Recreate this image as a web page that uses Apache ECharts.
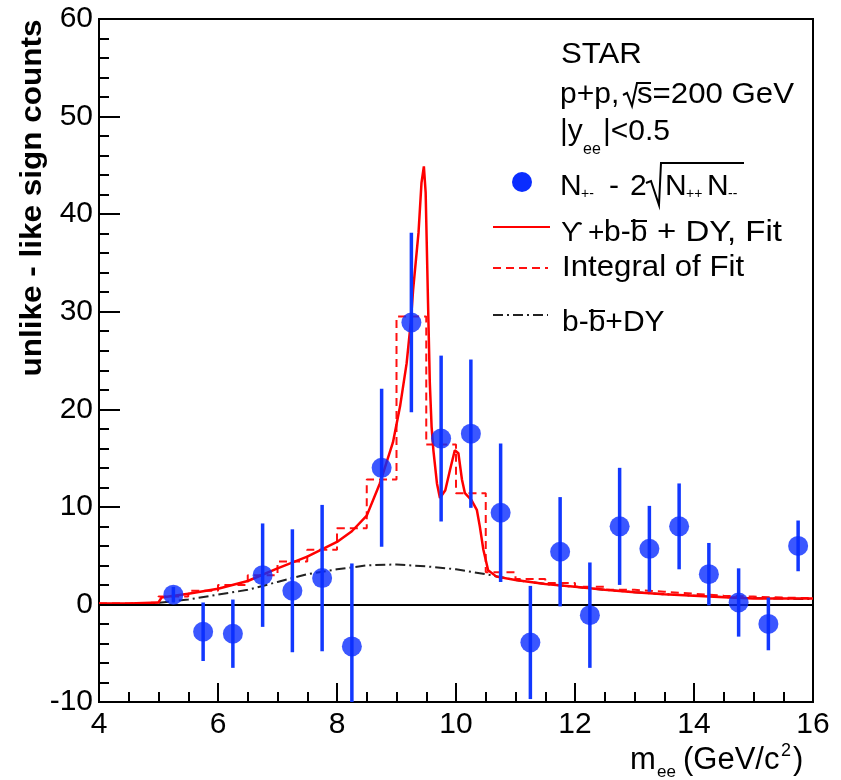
<!DOCTYPE html>
<html>
<head>
<meta charset="utf-8">
<script src="https://cdn.jsdelivr.net/npm/echarts@6/dist/echarts.min.js"></script>
<style>
  html, body { margin: 0; padding: 0; background: #fff; }
  #chart { width: 841px; height: 780px; }
</style>
</head>
<body>
<div id="chart"></div>
<script>
// data points: N+- - 2 sqrt(N++ N--), 0.5 GeV bins
const ptX = [5.25, 5.75, 6.25, 6.75, 7.25, 7.75, 8.25, 8.75, 9.25, 9.75, 10.25,
  10.75, 11.25, 11.75, 12.25, 12.75, 13.25, 13.75, 14.25, 14.75, 15.25, 15.75]
const ptY = [1.0, -2.8, -3.0, 3.0, 1.4, 2.7, -4.3, 14.0, 28.9, 17.0, 17.5,
  9.4, -3.9, 5.4, -1.1, 8.0, 5.7, 8.0, 3.1, 0.2, -2.0, 6.0]
const ptErr = [0.8, 3.0, 3.5, 5.3, 6.3, 7.5, 8.5, 8.1, 9.2, 8.5, 7.6,
  7.1, 5.8, 5.6, 5.4, 6.0, 4.4, 4.4, 3.2, 3.5, 2.7, 2.6]

// Upsilon + b-bbar + DY fit
const fitX = [4.0, 4.5, 5.0, 5.05, 5.5, 6.0, 6.5, 7.0, 7.5, 8.0, 8.25, 8.5, 8.72, 8.94,
  9.06, 9.17, 9.24, 9.28, 9.37, 9.42, 9.46, 9.49, 9.53, 9.56, 9.59, 9.62, 9.68, 9.73,
  9.82, 9.90, 9.98, 10.04, 10.10, 10.15, 10.26, 10.35, 10.40, 10.46, 10.54, 10.68,
  11.0, 11.5, 12.0, 12.5, 13.0, 13.5, 14.0, 14.5, 15.0, 15.5, 16.0]
const fitY = [0.1, 0.1, 0.2, 0.7, 1.1, 1.6, 2.4, 3.7, 4.9, 6.4, 7.5, 9.1, 12.4, 16.6,
  20.3, 24.7, 28.9, 32.3, 38.1, 43.2, 44.9, 42.2, 30.9, 22.7, 18.2, 15.8, 12.4, 10.9,
  11.7, 13.8, 15.8, 15.5, 12.8, 11.4, 10.7, 9.7, 8.0, 5.6, 3.5, 2.85,
  2.5, 2.1, 1.8, 1.5, 1.25, 1.05, 0.9, 0.74, 0.6, 0.6, 0.6]

// integral of fit per bin
const binEdges = [4, 4.5, 5, 5.5, 6, 6.5, 7, 7.5, 8, 8.5, 9, 9.5, 10, 10.5, 11,
  11.5, 12, 12.5, 13, 13.5, 14, 14.5, 15, 15.5, 16]
const intY = [0.1, 0.2, 0.8, 1.4, 2.0, 3.0, 4.4, 5.6, 7.8, 12.8, 29.5, 16.4, 11.4,
  3.3, 2.6, 2.2, 1.8, 1.5, 1.3, 1.1, 0.9, 0.8, 0.7, 0.65]

// b-bbar + DY background
const bgX = [4.0, 4.5, 4.9, 5.5, 6.0, 6.5, 7.0, 7.5, 8.0, 8.5, 9.0, 9.5, 10.0, 10.5,
  11.0, 11.5, 12.0, 12.5, 13.0, 13.5, 14.0, 14.5, 15.0, 15.5, 16.0]
const bgY = [0.0, 0.0, 0.1, 0.5, 1.0, 1.5, 2.3, 3.1, 3.6, 4.0, 4.1, 3.9, 3.6, 3.1,
  2.5, 2.1, 1.8, 1.5, 1.25, 1.05, 0.9, 0.75, 0.65, 0.6, 0.55]

const FONT = '"Liberation Sans", Arial, Helvetica, sans-serif'
const BLUE = '#0a2dff'

// text placed by its baseline
const txt = (x, base, s, size, sx) => ({
  type: 'text', x: x, y: base - 0.3465 * size, z: 100, scaleX: sx || 1,
  style: {
    text: s, fontSize: size, fontFamily: FONT, fill: '#000',
    align: 'left', verticalAlign: 'middle'
  }
})
const seg = (pts, stroke, width, dash) => ({
  type: 'polyline', z: 100, shape: { points: pts },
  style: { stroke: stroke, lineWidth: width, lineDash: dash || null, fill: null }
})

const chart = echarts.init(document.getElementById('chart'))

const option = {
  animation: false,
  backgroundColor: '#fff',
  grid: {
    left: 99, right: 28, top: 19, bottom: 78,
    containLabel: false,
    show: true, borderColor: '#000', borderWidth: 2
  },
  xAxis: {
    type: 'value', min: 4, max: 16, interval: 2,
    axisLine: { show: true, onZero: false, lineStyle: { color: '#000', width: 2 } },
    axisTick: { inside: true, length: 19, lineStyle: { color: '#000', width: 2 } },
    minorTick: { show: true, splitNumber: 4, length: 10, lineStyle: { color: '#000', width: 2 } },
    splitLine: { show: false },
    axisLabel: { fontSize: 30, fontFamily: FONT, color: '#000', margin: 8 }
  },
  yAxis: {
    type: 'value', min: -10, max: 60, interval: 10,
    axisLine: { show: true, onZero: false, lineStyle: { color: '#000', width: 2 } },
    axisTick: { inside: true, length: 21, lineStyle: { color: '#000', width: 2 } },
    minorTick: { show: true, splitNumber: 5, length: 10, lineStyle: { color: '#000', width: 2 } },
    splitLine: { show: false },
    axisLabel: { fontSize: 30, fontFamily: FONT, color: '#000', margin: 6 }
  },
  series: [
    {
      name: 'b-bbar+DY',
      type: 'line',
      data: bgX.map((x, i) => [x, bgY[i]]),
      showSymbol: false,
      lineStyle: { color: '#222', width: 2, type: [10, 4, 2, 4] },
      markLine: {
        silent: true, symbol: 'none', label: { show: false },
        lineStyle: { color: '#000', width: 2, type: 'solid' },
        data: [{ yAxis: 0 }]
      },
      z: 2
    },
    {
      name: 'Integral of Fit',
      type: 'line',
      step: 'end',
      data: binEdges.map((x, i) => [x, intY[Math.min(i, intY.length - 1)]]),
      showSymbol: false,
      lineStyle: { color: '#ff1010', width: 2, type: [8, 5] },
      z: 3
    },
    {
      name: 'Fit',
      type: 'line',
      data: fitX.map((x, i) => [x, fitY[i]]),
      showSymbol: false,
      lineStyle: { color: '#ff0000', width: 2.5 },
      z: 4
    },
    {
      name: 'errors',
      type: 'custom',
      clip: true,
      data: ptX.map((x, i) => [x, ptY[i] - ptErr[i], ptY[i] + ptErr[i]]),
      encode: { x: 0, y: [1, 2] },
      renderItem: (params, api) => {
        const lo = api.coord([api.value(0), api.value(1)])
        const hi = api.coord([api.value(0), api.value(2)])
        return {
          type: 'line',
          shape: { x1: lo[0], y1: lo[1], x2: hi[0], y2: hi[1] },
          style: { stroke: '#1238ff', lineWidth: 3.5 }
        }
      },
      z: 5
    },
    {
      name: 'data',
      type: 'scatter',
      data: ptX.map((x, i) => [x, ptY[i]]),
      symbol: 'circle',
      symbolSize: 20,
      itemStyle: { color: BLUE },
      z: 6
    }
  ],
  graphic: [
    // axis titles
    {
      type: 'text', x: 33, y: 198, rotation: Math.PI / 2, z: 100, scaleX: 1.05,
      style: {
        text: 'unlike - like sign counts', fontSize: 30, fontWeight: 'bold',
        fontFamily: FONT, fill: '#000', align: 'center', verticalAlign: 'middle'
      }
    },
    txt(630, 771, 'm', 31),
    txt(657, 778, 'ee', 17),
    txt(683, 771, '(GeV/c', 31),
    txt(781, 757, '2', 18),
    txt(793, 771, ')', 31),

    // legend header
    txt(561, 65, 'STAR', 30, 1.04),
    txt(560, 105, 'p+p,', 30),
    seg([[623, 95], [627, 93], [632, 106], [637, 83], [651, 83]], '#000', 2),
    txt(637, 105, 's=200 GeV', 30, 1.04),
    txt(560, 142, '|y', 30),
    txt(583, 155, 'ee', 16),
    txt(603, 142, '|<0.5', 30),

    // data marker entry
    { type: 'circle', z: 100, shape: { cx: 522, cy: 182, r: 10 }, style: { fill: BLUE } },
    txt(560, 197, 'N', 30),
    txt(581, 199, '+-', 14),
    txt(609, 197, '-', 30),
    txt(630, 197, '2', 30),
    seg([[646, 183], [651, 181], [659, 205], [661, 163], [744, 163]], '#000', 2),
    txt(665, 197, 'N', 30),
    txt(686, 199, '++', 14),
    txt(707, 197, 'N', 30),
    txt(728, 199, '--', 14),

    // fit entry
    seg([[493, 227], [550, 227]], '#ff0000', 2),
    txt(561, 243, 'ϒ', 28),
    txt(588, 243, '+', 28),
    txt(604, 243, 'b-b', 30),
    seg([[631, 221], [647, 221]], '#000', 2),
    txt(657, 243, '+ DY, Fit', 30, 1.1),

    // integral entry
    seg([[493, 268], [548, 268]], '#ff1010', 2, [8, 5]),
    txt(562, 278, 'Integral of Fit', 30, 1.04),

    // background entry
    seg([[493, 315], [548, 315]], '#222', 2, [10, 4, 2, 4]),
    txt(562, 333, 'b-b+DY', 30),
    seg([[589, 311], [605, 311]], '#000', 2)
  ]
}

chart.setOption(option)
</script>
</body>
</html>
